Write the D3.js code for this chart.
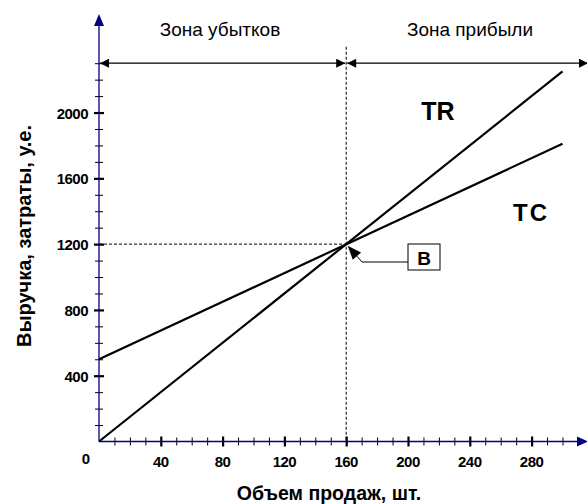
<!DOCTYPE html>
<html>
<head>
<meta charset="utf-8">
<script src="https://cdn.jsdelivr.net/npm/d3@7"></script>
<style>
  body { margin: 0; background: #fff; }
  svg { display: block; font-family: "Liberation Sans", Arial, sans-serif; }
</style>
</head>
<body>
<svg></svg>
<script>
// данные графика безубыточности
const volume = [0, 300];
const revenue = [0, 2250];   // TR
const costs = [500, 1810];   // TC
const breakEven = { q: 160, v: 1200 };

const xMinor = [10,20,30,40,50,60,70,80,90,100,110,120,130,140,150,160,170,180,190,200,210,220,230,240,250,260,270,280,290,300];
const xMajor = [40, 80, 120, 160, 200, 240, 280];
const yMinor = [100,200,300,400,500,600,700,800,900,1000,1100,1200,1300,1400,1500,1600,1700,1800,1900,2000,2100,2200,2300];
const yMajor = [400, 800, 1200, 1600, 2000];
const zoneLabels = ["Зона убытков", "Зона прибыли"];

const W = 587, H = 504;
const svg = d3.select("svg").attr("width", W).attr("height", H);

const x = d3.scaleLinear().domain([0, 300]).range([99, 562.5]);
const y = d3.scaleLinear().domain([0, 2300]).range([441.5, 63.2]);

const navy = "#000080";

const defs = svg.append("defs");
defs.append("marker")
    .attr("id", "arr")
    .attr("viewBox", "0 0 10 10")
    .attr("refX", 10).attr("refY", 5)
    .attr("markerWidth", 10).attr("markerHeight", 9)
    .attr("markerUnits", "userSpaceOnUse")
    .attr("orient", "auto-start-reverse")
    .append("path").attr("d", "M0,0L10,5L0,10Z").attr("fill", "#000");

// пунктирные линии точки безубыточности
svg.append("line")
    .attr("x1", x(breakEven.q)).attr("x2", x(breakEven.q))
    .attr("y1", y(2400)).attr("y2", y(0))
    .attr("stroke", "#000").attr("stroke-width", 1).attr("stroke-dasharray", "3,2");
svg.append("line")
    .attr("x1", x(0)).attr("x2", x(breakEven.q))
    .attr("y1", y(breakEven.v)).attr("y2", y(breakEven.v))
    .attr("stroke", "#000").attr("stroke-width", 1).attr("stroke-dasharray", "3,2");

// оси
const xAxis = d3.axisBottom(x).tickValues(xMinor).tickFormat("").tickSizeOuter(0);
const xg = svg.append("g").attr("transform", `translate(0,${y(0)})`).call(xAxis);
xg.select(".domain").remove();
xg.selectAll(".tick line")
    .attr("y1", d => xMajor.includes(d) ? -5 : -4)
    .attr("y2", d => xMajor.includes(d) ? 5 : 4)
    .attr("stroke", "#000")
    .attr("stroke-width", d => xMajor.includes(d) ? 2.2 : 1);
svg.append("line")
    .attr("x1", x(0)).attr("x2", 580)
    .attr("y1", y(0)).attr("y2", y(0))
    .attr("stroke", navy).attr("stroke-width", 1.3);
svg.append("path")
    .attr("d", `M577,${y(0) - 5}L588,${y(0)}L577,${y(0) + 5}Z`)
    .attr("fill", navy);

const yAxis = d3.axisLeft(y).tickValues(yMinor).tickFormat("").tickSizeOuter(0);
const yg = svg.append("g").attr("transform", `translate(${x(0)},0)`).call(yAxis);
yg.select(".domain").remove();
yg.selectAll(".tick line")
    .attr("x1", d => yMajor.includes(d) ? -5 : -4)
    .attr("x2", d => yMajor.includes(d) ? 5 : 4)
    .attr("stroke", "#000")
    .attr("stroke-width", d => yMajor.includes(d) ? 2.2 : 1);
svg.append("line")
    .attr("x1", x(0)).attr("x2", x(0))
    .attr("y1", y(0)).attr("y2", 24)
    .attr("stroke", navy).attr("stroke-width", 1.3);
svg.append("path")
    .attr("d", `M${x(0) - 5},26L${x(0)},14L${x(0) + 5},26Z`)
    .attr("fill", navy);

// подписи делений
svg.append("g").selectAll("text").data(xMajor).join("text")
    .attr("x", d => x(d)).attr("y", 467)
    .attr("text-anchor", "middle")
    .attr("font-size", 15).attr("font-weight", "bold").attr("letter-spacing", -0.5)
    .text(d => d);
svg.append("text")
    .attr("x", 86).attr("y", 464)
    .attr("text-anchor", "middle")
    .attr("font-size", 15).attr("font-weight", "bold")
    .text("0");
svg.append("g").selectAll("text").data(yMajor).join("text")
    .attr("x", 88).attr("y", d => y(d) + 6)
    .attr("text-anchor", "end")
    .attr("font-size", 15).attr("font-weight", "bold").attr("letter-spacing", -0.5)
    .text(d => d);

// линии TR и TC
const line = d3.line().x(d => x(d[0])).y(d => y(d[1]));
svg.append("path")
    .datum(volume.map((v, i) => [v, revenue[i]]))
    .attr("d", line).attr("fill", "none").attr("stroke", "#000").attr("stroke-width", 2.2);
svg.append("path")
    .datum(volume.map((v, i) => [v, costs[i]]))
    .attr("d", line).attr("fill", "none").attr("stroke", "#000").attr("stroke-width", 2.2);

// зоны
const zoneY = y(2300);
svg.append("line")
    .attr("x1", x(breakEven.q) - 1).attr("x2", x(0) + 1)
    .attr("y1", zoneY).attr("y2", zoneY)
    .attr("stroke", "#000").attr("stroke-width", 1.3)
    .attr("marker-start", "url(#arr)").attr("marker-end", "url(#arr)");
svg.append("line")
    .attr("x1", x(breakEven.q) + 1).attr("x2", 588)
    .attr("y1", zoneY).attr("y2", zoneY)
    .attr("stroke", "#000").attr("stroke-width", 1.3)
    .attr("marker-start", "url(#arr)").attr("marker-end", "url(#arr)");

svg.append("text")
    .attr("x", 220).attr("y", 36)
    .attr("text-anchor", "middle").attr("font-size", 19)
    .text(zoneLabels[0]);
svg.append("text")
    .attr("x", 470).attr("y", 36)
    .attr("text-anchor", "middle").attr("font-size", 19)
    .text(zoneLabels[1]);

svg.append("text")
    .attr("x", 438).attr("y", 120)
    .attr("text-anchor", "middle").attr("font-size", 25).attr("font-weight", "bold")
    .text("TR");
svg.append("text")
    .attr("x", 531).attr("y", 221)
    .attr("text-anchor", "middle").attr("font-size", 24).attr("font-weight", "bold")
    .attr("letter-spacing", 2)
    .text("TC");

// точка B: выноска со стрелкой
const bx = x(breakEven.q) + 1.5, by = y(breakEven.v) + 1.5;
const elbow = [362, 262];
const ang = Math.atan2(by - elbow[1], bx - elbow[0]);
const headLen = 14, headHalf = 5.5;
const baseX = bx - headLen * Math.cos(ang), baseY = by - headLen * Math.sin(ang);
svg.append("path")
    .attr("d", `M408,262L${elbow[0]},${elbow[1]}L${baseX},${baseY}`)
    .attr("fill", "none").attr("stroke", "#000").attr("stroke-width", 1);
svg.append("path")
    .attr("d", `M${bx},${by}` +
        `L${baseX - headHalf * Math.sin(ang)},${baseY + headHalf * Math.cos(ang)}` +
        `L${baseX + headHalf * Math.sin(ang)},${baseY - headHalf * Math.cos(ang)}Z`)
    .attr("fill", "#000");
svg.append("rect")
    .attr("x", 408).attr("y", 244).attr("width", 32).attr("height", 26)
    .attr("fill", "#fff").attr("stroke", "#000").attr("stroke-width", 1);
svg.append("text")
    .attr("x", 424).attr("y", 265)
    .attr("text-anchor", "middle").attr("font-size", 19).attr("font-weight", "bold")
    .text("B");

// названия осей
svg.append("text")
    .attr("transform", `translate(31,236) rotate(-90)`)
    .attr("text-anchor", "middle").attr("font-size", 20).attr("font-weight", "bold")
    .text("Выручка, затраты, у.е.");
svg.append("text")
    .attr("x", 329).attr("y", 500)
    .attr("text-anchor", "middle").attr("font-size", 19.5).attr("font-weight", "bold")
    .text("Объем продаж, шт.");
</script>
</body>
</html>
